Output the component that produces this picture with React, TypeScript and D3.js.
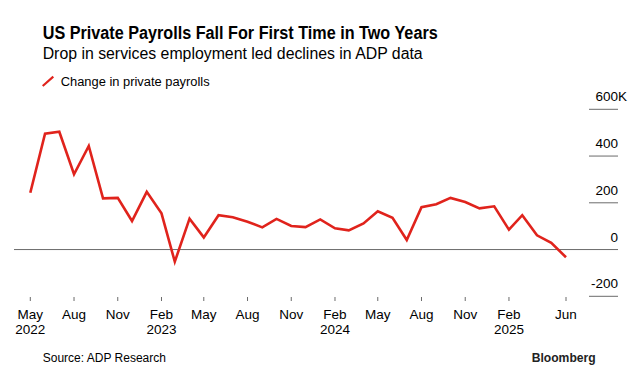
import React from "react";
import * as d3 from "d3";

const startMonth = "2022-05";
const payrolls = [
  243, 496, 504, 322, 443, 219, 221, 122, 247, 155, -52, 132,
  52, 147, 138, 119, 95, 131, 101, 96, 129, 91, 82, 112,
  164, 136, 41, 181, 194, 221, 203, 176, 185, 85, 147, 61,
  29, -33,
];
const xTicks = [
  { date: "2022-05", month: "May", year: "2022" },
  { date: "2022-08", month: "Aug", year: "" },
  { date: "2022-11", month: "Nov", year: "" },
  { date: "2023-02", month: "Feb", year: "2023" },
  { date: "2023-05", month: "May", year: "" },
  { date: "2023-08", month: "Aug", year: "" },
  { date: "2023-11", month: "Nov", year: "" },
  { date: "2024-02", month: "Feb", year: "2024" },
  { date: "2024-05", month: "May", year: "" },
  { date: "2024-08", month: "Aug", year: "" },
  { date: "2024-11", month: "Nov", year: "" },
  { date: "2025-02", month: "Feb", year: "2025" },
  { date: "2025-06", month: "Jun", year: "" },
];
const yTicks = [600, 400, 200, 0, -200];
const yUnit = "K";

const title = "US Private Payrolls Fall For First Time in Two Years";
const subtitle = "Drop in services employment led declines in ADP data";
const legendLabel = "Change in private payrolls";
const source = "Source: ADP Research";
const brand = "Bloomberg";

const FONT = "'Liberation Sans', Arial, Helvetica, sans-serif";
const RED = "#e0231c";
const GRID = "#6b6b6b";

const parseMonth = d3.utcParse("%Y-%m");

export default function App() {
  const start = parseMonth(startMonth) as Date;
  const data = payrolls.map((v, i) => ({ date: d3.utcMonth.offset(start, i), value: v }));

  const x = d3
    .scaleUtc()
    .domain([start, data[data.length - 1].date])
    .range([30.3, 566]);
  const y = d3.scaleLinear().domain([-200, 600]).range([296.3, 109.3]);

  const line = d3
    .line<{ date: Date; value: number }>()
    .x((d) => x(d.date))
    .y((d) => y(d.value))
    .curve(d3.curveLinear);

  const gridX0 = 589;
  const gridX1 = 618;

  return (
    <svg
      width={632}
      height={378}
      style={{ position: "absolute", left: 0, top: 0, background: "#fff" }}
      fontFamily={FONT}
    >
      <rect width={632} height={378} fill="#fff" />
      <text x={42.7} y={39} fontSize={17.5} fontWeight={700} fill="#000" textLength={395} lengthAdjust="spacingAndGlyphs">
        {title}
      </text>
      <text x={42.7} y={59} fontSize={16} fill="#000" textLength={380} lengthAdjust="spacingAndGlyphs">
        {subtitle}
      </text>

      {/* legend */}
      <line x1={42.7} y1={86} x2={53.3} y2={76.7} stroke={RED} strokeWidth={2.2} />
      <text x={60.7} y={86} fontSize={12.5} fill="#000" textLength={149} lengthAdjust="spacingAndGlyphs">
        {legendLabel}
      </text>

      {/* y gridlines and labels */}
      {yTicks.map((t) => (
        <g key={t}>
          {t === 0 ? (
            <line x1={14} x2={gridX1} y1={y(t)} y2={y(t)} stroke={GRID} strokeWidth={1} />
          ) : (
            <line x1={gridX0} x2={gridX1} y1={y(t)} y2={y(t)} stroke={GRID} strokeWidth={1} />
          )}
          <text x={gridX1} y={y(t) - 8} fontSize={13.5} textAnchor="end" fill="#000">
            {t}
          </text>
          {t === yTicks[0] && (
            <text x={gridX1} y={y(t) - 8} fontSize={13.5} textAnchor="start" fill="#000">
              {yUnit}
            </text>
          )}
        </g>
      ))}

      {/* x ticks */}
      {xTicks.map((t) => {
        const xx = x(parseMonth(t.date) as Date);
        return (
          <g key={t.date}>
            <line x1={xx} x2={xx} y1={297} y2={301} stroke={GRID} strokeWidth={1} />
            <text x={xx} y={319} fontSize={13.5} textAnchor="middle" fill="#000">
              {t.month}
            </text>
            {t.year && (
              <text x={xx} y={334.3} fontSize={13.5} textAnchor="middle" fill="#000">
                {t.year}
              </text>
            )}
          </g>
        );
      })}

      <path d={line(data) || ""} fill="none" stroke={RED} strokeWidth={2.6} strokeLinejoin="miter" />

      <text x={42.7} y={362} fontSize={12.5} fill="#000" textLength={123.3} lengthAdjust="spacingAndGlyphs">
        {source}
      </text>
      <text x={531.7} y={362} fontSize={13} fontWeight={700} fill="#222" textLength={64} lengthAdjust="spacingAndGlyphs">
        {brand}
      </text>
    </svg>
  );
}
